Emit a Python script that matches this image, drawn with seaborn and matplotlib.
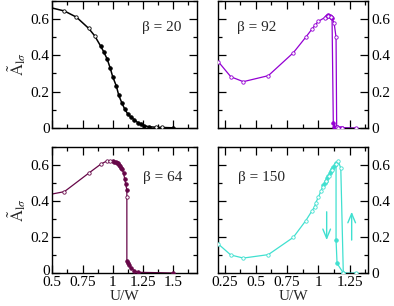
import matplotlib
matplotlib.use("Agg")
import matplotlib.pyplot as plt
import matplotlib.ticker as mticker
import matplotlib.transforms as mtransforms
import seaborn as sns
import pandas as pd

# ---------------- data ----------------
# beta = 20 (black)
b20_line_U = [0.5, 0.6, 0.7, 0.8, 0.85, 0.9, 0.925, 0.955, 0.98, 1.0, 1.03, 1.05, 1.075, 1.1,
              1.125, 1.153, 1.18, 1.207, 1.235, 1.26, 1.3, 1.36, 1.41, 1.5]
b20_line_A = [0.66, 0.644, 0.61, 0.549, 0.508, 0.451, 0.42, 0.378, 0.328, 0.282, 0.231, 0.18, 0.139, 0.103,
              0.077, 0.059, 0.044, 0.03, 0.02, 0.013, 0.007, 0.004, 0.003, 0.001]
b20_open_U = [0.6, 0.7, 0.8, 0.85, 1.36, 1.41]
b20_open_A = [0.644, 0.61, 0.549, 0.508, 0.004, 0.003]
b20_fill_U = [0.9, 0.925, 0.955, 0.98, 1.0, 1.03, 1.05, 1.075, 1.1, 1.125, 1.153, 1.18, 1.207, 1.235,
              1.26, 1.3, 1.5]
b20_fill_A = [0.451, 0.42, 0.378, 0.328, 0.282, 0.231, 0.18, 0.139, 0.103, 0.077, 0.059, 0.044, 0.03,
              0.02, 0.013, 0.007, 0.001]

# beta = 92 (violet)
b92_open_U = [0.2, 0.3, 0.4, 0.6, 0.8, 0.9, 0.95, 0.975, 1.0, 1.05, 1.075, 1.1, 1.126, 1.142,
              1.147, 1.16, 1.187, 1.3]
b92_open_A = [0.365, 0.282, 0.255, 0.288, 0.414, 0.50, 0.545, 0.567, 0.587, 0.607, 0.617, 0.612, 0.58,
              0.50, 0.004, 0.002, 0.002, 0.0]
b92_fill_U = [1.06, 1.07, 1.08, 1.09, 1.10, 1.11, 1.12, 1.128, 1.15, 1.177, 1.19]
b92_fill_A = [0.612, 0.618, 0.62, 0.618, 0.612, 0.605, 0.025, 0.008, 0.003, 0.002, 0.002]

# beta = 64 (maroon)
b64_line_U = [0.5, 0.6, 0.8, 0.9, 0.95, 0.975, 1.0, 1.024, 1.043, 1.062, 1.079, 1.09, 1.1, 1.108,
              1.117, 1.117, 1.117, 1.125, 1.133, 1.153, 1.18, 1.207, 1.5]
b64_line_A = [0.439, 0.452, 0.554, 0.604, 0.622, 0.622, 0.62, 0.617, 0.609, 0.594, 0.576, 0.554, 0.52,
              0.493, 0.461, 0.424, 0.068, 0.057, 0.044, 0.026, 0.013, 0.004, 0.0]
b64_open_U = [0.6, 0.8, 0.9, 0.95, 0.975, 1.117]
b64_open_A = [0.452, 0.554, 0.604, 0.622, 0.622, 0.424]
b64_fill_U = [1.0, 1.012, 1.024, 1.034, 1.043, 1.053, 1.062, 1.07, 1.079, 1.09, 1.1, 1.108, 1.117,
              1.117, 1.125, 1.133, 1.153, 1.18, 1.207, 1.5]
b64_fill_A = [0.62, 0.619, 0.617, 0.613, 0.609, 0.602, 0.594, 0.586, 0.576, 0.554, 0.52, 0.493, 0.461,
              0.068, 0.057, 0.044, 0.026, 0.013, 0.004, 0.0]

# beta = 150 (turquoise)
b150_open_U = [0.2, 0.3, 0.4, 0.6, 0.8, 0.9, 0.95, 0.97, 0.98, 1.0, 1.02, 1.035, 1.06, 1.085, 1.11,
               1.14, 1.16, 1.18, 1.2, 1.3]
b150_open_A = [0.161, 0.10, 0.083, 0.102, 0.198, 0.291, 0.346, 0.368, 0.391, 0.42, 0.454, 0.48, 0.51,
               0.54, 0.575, 0.605, 0.622, 0.581, 0.0, 0.0]
b150_fill_U = [1.04, 1.05, 1.06, 1.07, 1.08, 1.09, 1.10, 1.11, 1.12, 1.13, 1.142, 1.142, 1.15, 1.2]
b150_fill_A = [0.49, 0.50, 0.513, 0.527, 0.54, 0.553, 0.565, 0.577, 0.589, 0.60, 0.612, 0.183, 0.054, 0.0]

arrow_U = [1.067, 1.267]
arrow_from = [0.34, 0.183]
arrow_to = [0.183, 0.34]

betas = ["β = 20", "β = 92", "β = 64", "β = 150"]
xticks_left = [0.5, 0.75, 1, 1.25, 1.5]
xticks_right = [0.25, 0.5, 0.75, 1, 1.25]
yticks = [0, 0.2, 0.4, 0.6]

C20, C92, C64, C150 = "black", "#9400D3", "#670748", "#40E0D0"

# ---------------- style ----------------
sns.set_style("ticks")
plt.rcParams["font.family"] = ["Liberation Serif", "DejaVu Serif"]
plt.rcParams["mathtext.fontset"] = "stix"
plt.rcParams["font.size"] = 11

fig = plt.figure(figsize=(3.94, 3.06), dpi=100)
W, H = 394.0, 306.0
def axbox(x0, x1, ytop, ybot):
    return [x0 / W, 1 - ybot / H, (x1 - x0) / W, (ybot - ytop) / H]

ax20 = fig.add_axes(axbox(52.3, 197.3, 0.8, 128))
ax92 = fig.add_axes(axbox(218.3, 368.3, 0.8, 128))
ax64 = fig.add_axes(axbox(52.3, 197.3, 147, 273))
ax150 = fig.add_axes(axbox(218.3, 368.3, 147, 273))

def line(ax, U, A, color, lw):
    df = pd.DataFrame({"U": U, "A": A})
    sns.lineplot(data=df, x="U", y="A", sort=False, estimator=None, color=color, lw=lw, ax=ax,
                 zorder=2)

def pts(ax, U, A, color, filled):
    df = pd.DataFrame({"U": U, "A": A})
    if filled:
        sns.scatterplot(data=df, x="U", y="A", color=color, edgecolor=color, s=7, linewidth=0.5,
                        ax=ax, zorder=3)
    else:
        sns.scatterplot(data=df, x="U", y="A", facecolor="white", edgecolor=color, s=6,
                        linewidth=0.6, ax=ax, zorder=4)

# beta 20
line(ax20, b20_line_U, b20_line_A, C20, 1.1)
pts(ax20, b20_fill_U, b20_fill_A, C20, True)
pts(ax20, b20_open_U, b20_open_A, C20, False)
# beta 92
line(ax92, b92_open_U, b92_open_A, C92, 0.9)
line(ax92, b92_fill_U, b92_fill_A, C92, 0.9)
pts(ax92, b92_fill_U, b92_fill_A, C92, True)
pts(ax92, b92_open_U, b92_open_A, C92, False)
# beta 64
line(ax64, b64_line_U, b64_line_A, C64, 0.9)
pts(ax64, b64_fill_U, b64_fill_A, C64, True)
pts(ax64, b64_open_U, b64_open_A, C64, False)
# beta 150
line(ax150, b150_open_U, b150_open_A, C150, 0.9)
line(ax150, b150_fill_U, b150_fill_A, C150, 0.9)
pts(ax150, b150_fill_U, b150_fill_A, C150, True)
pts(ax150, b150_open_U, b150_open_A, C150, False)
for u, a0, a1 in zip(arrow_U, arrow_from, arrow_to):
    ax150.annotate("", xy=(u, a1), xytext=(u, a0),
                   arrowprops=dict(arrowstyle="->,head_length=0.6,head_width=0.25",
                                   color=C150, lw=1.0, shrinkA=0, shrinkB=0))

fmt = mticker.FuncFormatter(lambda v, p: f"{v:g}")
text_pos = [(0.757, 0.794), (0.258, 0.787), (0.763, 0.756), (0.289, 0.756)]
for i, ax in enumerate([ax20, ax92, ax64, ax150]):
    left = i in (0, 2)
    bottom = i in (2, 3)
    ax.set_xlim(0.5, 1.7) if left else ax.set_xlim(0.2, 1.4)
    ax.set_ylim(0, 0.7)
    ax.set_xticks(xticks_left if left else xticks_right)
    ax.xaxis.set_minor_locator(mticker.AutoMinorLocator(2))
    ax.set_yticks(yticks)
    ax.yaxis.set_minor_locator(mticker.AutoMinorLocator(2))
    ax.xaxis.set_major_formatter(fmt)
    ax.yaxis.set_major_formatter(fmt)
    ax.tick_params(which="both", direction="in", top=True, right=True, left=True, bottom=True,
                   width=0.9, labelsize=11, pad=2, colors="black")
    ax.tick_params(which="major", length=6)
    ax.tick_params(which="minor", length=3)
    ax.tick_params(axis="x", labelbottom=bottom, pad=2.5)
    ax.tick_params(axis="y", labelleft=left, labelright=not left)
    for sp in ax.spines.values():
        sp.set_linewidth(1.0)
        sp.set_color("black")
    ax.set_xlabel("U/W" if bottom else "", fontsize=11, labelpad=0.5)
    ax.set_ylabel(r"$\tilde{\mathrm{A}}_{\mathrm{l}\sigma}$" if left else "", fontsize=12,
                  labelpad=2)
    tx, ty = text_pos[i]
    ax.text(tx, ty, betas[i], transform=ax.transAxes, ha="center", va="center", fontsize=11)

# nudge the bottom-left "0" y-label up a touch so it does not collide with "0.5"
fig.canvas.draw()
for tick in ax64.yaxis.get_major_ticks():
    if abs(tick.get_loc()) < 1e-9:
        lab = tick.label1
        lab.set_transform(lab.get_transform() +
                          mtransforms.ScaledTranslation(0, 2.0 / 72, fig.dpi_scale_trans))

fig.savefig("out.png", dpi=100)
